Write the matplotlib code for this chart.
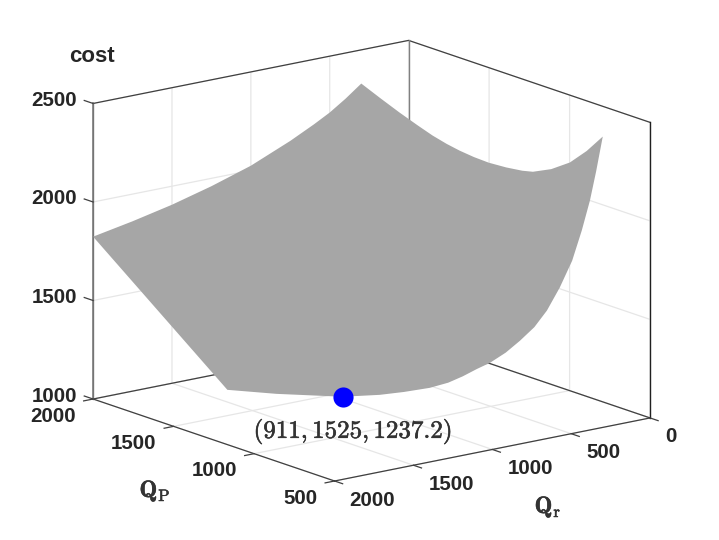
import numpy as np
import matplotlib
matplotlib.use("Agg")
import matplotlib.pyplot as plt
import matplotlib.patheffects as pe
from mpl_toolkits.mplot3d import proj3d
from mpl_toolkits.mplot3d.art3d import Poly3DCollection

# outline of the cost surface
back_qr = [2000, 1750, 1500, 1250, 1000, 750, 600, 500, 400, 300]
back_qp = [2000, 2000, 2000, 2000, 2000, 2000, 2000, 2000, 2000, 2000]
back_cost = [1824, 1862, 1906, 1960, 2024, 2110, 2170, 2214, 2268, 2329]

side_qp = [1880, 1763, 1650, 1557, 1470, 1389, 1300, 1208, 1100, 1000, 934, 820, 704, 600, 500]
side_cost = [2287, 2248, 2214, 2188, 2170, 2158, 2150, 2147, 2153, 2164, 2177, 2222, 2288, 2375, 2476]
side_qr = [300] * len(side_qp)

low_qr = [330, 358, 395, 439, 495, 553, 610, 675, 740, 811, 870, 934, 1000, 1083, 1200, 1310, 1478, 1777, 2000]
low_qp = [512, 523, 537, 554, 576, 599, 621, 647, 672, 700, 723, 748, 774, 807, 853, 896, 962, 1079, 1166]
low_cost = [2300, 2154, 2005, 1853, 1720, 1606, 1525, 1459, 1402, 1354, 1326, 1292, 1263, 1241, 1226, 1217, 1216, 1246, 1278]

opt_qr = 1525
opt_qp = 911
opt_cost = 1237.2

qr_ticks = [0, 500, 1000, 1500, 2000]
qp_ticks = [500, 1000, 1500, 2000]
cost_ticks = [1000, 1500, 2000, 2500]

plt.rcParams['font.family'] = ['Liberation Sans', 'DejaVu Sans']
plt.rcParams['font.weight'] = 'bold'
plt.rcParams['mathtext.fontset'] = 'cm'
plt.rcParams['grid.color'] = '#e6e6e6'
plt.rcParams['grid.linewidth'] = 0.9

fig = plt.figure(figsize=(7.19, 5.40), dpi=100)
ax = fig.add_axes([4.8 / 719, 2 / 540, 1.0, 1.0], projection='3d', proj_type='ortho', computed_zorder=False)
ax.view_init(elev=15.1, azim=52.5)
ax.set_box_aspect((397, 396, 305.6), zoom=1.15)
ax.set_xlim(0, 2000, view_margin=0)
ax.set_ylim(2000, 500, view_margin=0)
ax.set_zlim(1000, 2500, view_margin=0)

ax.set_xticks(qr_ticks)
ax.set_yticks(qp_ticks)
ax.set_zticks(cost_ticks)
ax.set_xticklabels([])
ax.set_yticklabels([])
ax.set_zticklabels([])

for axis in (ax.xaxis, ax.yaxis, ax.zaxis):
    axis.set_pane_color((1, 1, 1, 0))
    axis.pane.set_edgecolor('none')
    axis.line.set_color('#404040')
    axis.line.set_linewidth(0.9)
    axis.offsetText.set_visible(False)
    axis.label.set_visible(False)
    axis._axinfo['tick'].update(inward_factor=0, outward_factor=0)
for t in (ax.title, ax._left_title, ax._right_title):
    t.set_visible(False)

# surface
edge_qr = back_qr + side_qr + low_qr
edge_qp = back_qp + side_qp + low_qp
edge_cost = back_cost + side_cost + low_cost
surf = Poly3DCollection([list(zip(edge_qr, edge_qp, edge_cost))], facecolor='#a6a6a6', edgecolor='none', zorder=3, clip_on=False)
ax.add_collection3d(surf)

# box lines at the back
ax.plot([2000, 0, 0], [2000, 2000, 500], [2500, 2500, 2500], color='#404040', lw=0.9, zorder=2, clip_on=False)
ax.plot([2000, 0, 0], [2000, 2000, 500], [1000, 1000, 1000], color='#404040', lw=0.9, zorder=2, clip_on=False)
ax.plot([2000, 2000], [2000, 2000], [1000, 2500], color='#808080', lw=1.2, zorder=2, clip_on=False)
ax.plot([0, 0], [2000, 2000], [1000, 2500], color='#808080', lw=1.0, zorder=2, clip_on=False)
ax.plot([0, 0], [500, 500], [1000, 2500], color='#202020', lw=1.0, zorder=2, clip_on=False)


def tick_label(x, y, z, txt, dx, dy, ha):
    # label beside a tick, offset given in pixels
    px, py, _ = proj3d.proj_transform(x, y, z, ax.get_proj())
    ax.annotate(txt, (px, py), xytext=(dx * 0.72, -dy * 0.72), textcoords='offset points',
                fontsize=14.8, color='#262626', ha=ha, va='center', annotation_clip=False)


for q in qr_ticks:
    ax.plot([q, q], [500, 450], [1000, 1000], color='#404040', lw=0.9, zorder=2, clip_on=False)
    tick_label(q, 500, 1000, str(q), 15, 19, 'left')
for q in qp_ticks:
    ax.plot([2000, 2060], [q, q], [1000, 1000], color='#404040', lw=0.9, zorder=2, clip_on=False)
    tick_label(2000, q, 1000, str(q), -17, 17, 'right')
for c in cost_ticks:
    ax.plot([2000, 2000], [2000, 2055], [c, c], color='#404040', lw=0.9, zorder=2, clip_on=False)
    tick_label(2000, 2000, c, str(c), -16, -3, 'right')

ax.plot([opt_qr], [opt_qp], [opt_cost], 'o', color='#0000ff', ms=14.5, mec='none', zorder=5, clip_on=False)
lab = ax.text(1465, opt_qp, 1050, r'$\mathbf{(911, 1525, 1237.2)}$', fontsize=18, color='#333333', ha='center', va='center', zorder=6)
lab.set_path_effects([pe.withStroke(linewidth=0.4, foreground='#333333')])

fig.text(92 / 719, 1 - 57 / 540, 'cost', fontsize=16, color='#262626', ha='center', va='center')
for txt, xp, yp in [(r'$\mathbf{Q}_{\mathrm{P}}$', 155, 491), (r'$\mathbf{Q}_{\mathrm{r}}$', 548, 507)]:
    t = fig.text(xp / 719, 1 - yp / 540, txt, fontsize=17, color='#333333', ha='center', va='center')
    t.set_path_effects([pe.withStroke(linewidth=0.4, foreground='#333333')])

fig.savefig('out.png', dpi=100)
